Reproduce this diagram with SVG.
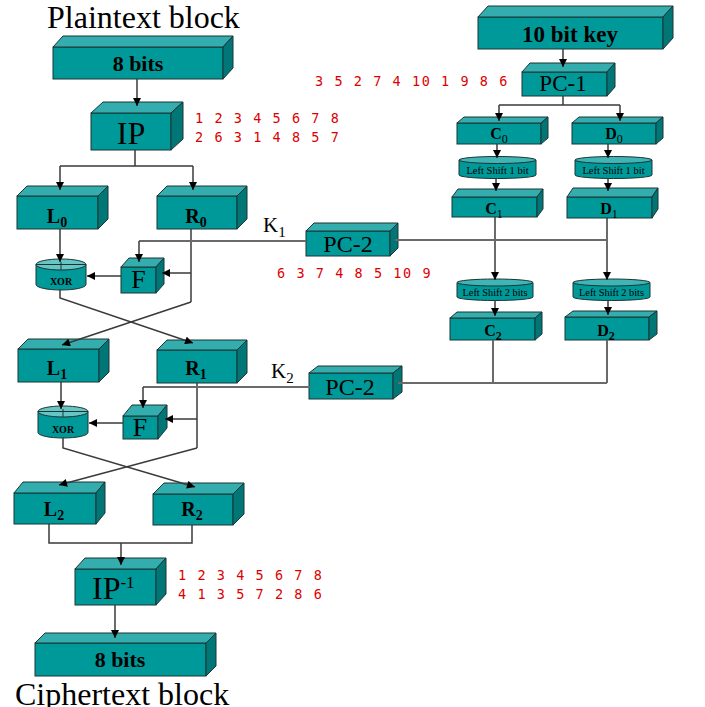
<svg xmlns="http://www.w3.org/2000/svg" width="705" height="707" viewBox="0 0 705 707">
<defs>
<marker id="ah" viewBox="0 0 10 10" refX="10" refY="5" markerWidth="10" markerHeight="8" orient="auto" markerUnits="userSpaceOnUse"><path d="M0,0 L10,5 L0,10 z" fill="#000"/></marker>
<style>
.fr{fill:#009999;stroke:#1c3434;stroke-width:1}
.tp{fill:#33adad;stroke:#1c3434;stroke-width:1}
.sd{fill:#007676;stroke:#1c3434;stroke-width:1}
.cy{fill:#009999;stroke:#1c3434;stroke-width:1}
.ct{fill:#40b5b5;stroke:#1c3434;stroke-width:1}
.xt{fill:#66c6c6;stroke:#1c3434;stroke-width:1}
.bl{font-family:"Liberation Serif",serif;font-weight:bold;fill:#000;text-anchor:middle}
.rg{font-family:"Liberation Serif",serif;fill:#000;text-anchor:middle}
.rd{font-family:"DejaVu Sans Mono",monospace;font-size:13.5px;fill:#dd0000;letter-spacing:1.57px;white-space:pre}
.ln{fill:none;stroke:#3a3a3a;stroke-width:1.5}
.kl{fill:none;stroke:#6a6a6a;stroke-width:2}
.ar{marker-end:url(#ah)}
</style>
</defs>
<rect width="705" height="707" fill="#fff"/>

<text x="47" y="28" font-family="Liberation Serif,serif" font-size="32">Plaintext block</text>
<text x="15" y="705" font-family="Liberation Serif,serif" font-size="32">Ciphertext block</text>

<g id="pt8">
<rect class="fr" x="53" y="47" width="170" height="32"/>
<polygon class="tp" points="53,47 63,36 233,36 223,47"/>
<polygon class="sd" points="223,47 233,36 233,68 223,79"/>
<text class="bl" x="138" y="71" font-size="22">8 bits</text>
</g>
<g id="ip">
<rect class="fr" x="91" y="113" width="80" height="37"/>
<polygon class="tp" points="91,113 103,102 183,102 171,113"/>
<polygon class="sd" points="171,113 183,102 183,139 171,150"/>
<text class="rg" x="131" y="144" font-size="32">IP</text>
</g>
<g id="key">
<rect class="fr" x="478" y="17" width="185" height="32"/>
<polygon class="tp" points="478,17 488,6 673,6 663,17"/>
<polygon class="sd" points="663,17 673,6 673,38 663,49"/>
<text class="bl" x="570" y="42" font-size="23">10 bit key</text>
</g>
<g id="pc1">
<rect class="fr" x="522" y="72" width="85" height="24"/>
<polygon class="tp" points="522,72 530,63 615,63 607,72"/>
<polygon class="sd" points="607,72 615,63 615,87 607,96"/>
<text class="rg" x="563" y="91" font-size="23">PC-1</text>
</g>
<g id="c0">
<rect class="fr" x="457" y="123" width="84" height="21"/>
<polygon class="tp" points="457,123 464,117 548,117 541,123"/>
<polygon class="sd" points="541,123 548,117 548,138 541,144"/>
<text class="bl" x="499" y="139" font-size="16">C<tspan font-size="12" font-weight="normal" dy="4">0</tspan></text>
</g>
<g id="d0">
<rect class="fr" x="572" y="123" width="84" height="21"/>
<polygon class="tp" points="572,123 579,117 663,117 656,123"/>
<polygon class="sd" points="656,123 663,117 663,138 656,144"/>
<text class="bl" x="614" y="139" font-size="16">D<tspan font-size="12" font-weight="normal" dy="4">0</tspan></text>
</g>
<g id="ls1c">
<path class="cy" d="M459,160 V175 A38.5,3.5 0 0 0 536,175 V160 Z"/>
<ellipse class="ct" cx="497.5" cy="160" rx="38.5" ry="3.5"/>
<text class="rg" x="497.5" y="174" font-size="10.5">Left Shift 1 bit</text>
</g>
<g id="ls1d">
<path class="cy" d="M575,160 V175 A38.5,3.5 0 0 0 652,175 V160 Z"/>
<ellipse class="ct" cx="613.5" cy="160" rx="38.5" ry="3.5"/>
<text class="rg" x="613.5" y="174" font-size="10.5">Left Shift 1 bit</text>
</g>
<g id="c1">
<rect class="fr" x="452" y="197" width="85" height="20"/>
<polygon class="tp" points="452,197 458,189 543,189 537,197"/>
<polygon class="sd" points="537,197 543,189 543,209 537,217"/>
<text class="bl" x="494" y="214" font-size="16">C<tspan font-size="12" font-weight="normal" dy="4">1</tspan></text>
</g>
<g id="d1">
<rect class="fr" x="567" y="197" width="85" height="21"/>
<polygon class="tp" points="567,197 573,188 658,188 652,197"/>
<polygon class="sd" points="652,197 658,188 658,209 652,218"/>
<text class="bl" x="609" y="214" font-size="16">D<tspan font-size="12" font-weight="normal" dy="4">1</tspan></text>
</g>
<g id="ls2c">
<path class="cy" d="M457,282.5 V297 A38,3.5 0 0 0 533,297 V282.5 Z"/>
<ellipse class="ct" cx="495" cy="282.5" rx="38" ry="3.5"/>
<text class="rg" x="495" y="296" font-size="10.3">Left Shift 2 bits</text>
</g>
<g id="ls2d">
<path class="cy" d="M573,282.5 V297 A38.5,3.5 0 0 0 650,297 V282.5 Z"/>
<ellipse class="ct" cx="611.5" cy="282.5" rx="38.5" ry="3.5"/>
<text class="rg" x="611.5" y="296" font-size="10.3">Left Shift 2 bits</text>
</g>
<g id="c2">
<rect class="fr" x="450" y="318" width="85" height="22"/>
<polygon class="tp" points="450,318 457,312 542,312 535,318"/>
<polygon class="sd" points="535,318 542,312 542,334 535,340"/>
<text class="bl" x="493" y="336" font-size="16">C<tspan font-size="12" dy="4">2</tspan></text>
</g>
<g id="d2">
<rect class="fr" x="565" y="317" width="84" height="23"/>
<polygon class="tp" points="565,317 573,311 657,311 649,317"/>
<polygon class="sd" points="649,317 657,311 657,334 649,340"/>
<text class="bl" x="606" y="336" font-size="16">D<tspan font-size="12" dy="4">2</tspan></text>
</g>
<g id="pc2a">
<rect class="fr" x="306" y="231" width="84" height="25"/>
<polygon class="tp" points="306,231 314,223 398,223 390,231"/>
<polygon class="sd" points="390,231 398,223 398,248 390,256"/>
<text class="rg" x="348" y="252" font-size="24">PC-2</text>
</g>
<g id="pc2b">
<rect class="fr" x="309" y="373" width="84" height="26"/>
<polygon class="tp" points="309,373 318,366 402,366 393,373"/>
<polygon class="sd" points="393,373 402,366 402,392 393,399"/>
<text class="rg" x="350" y="395" font-size="24">PC-2</text>
</g>
<g id="l0">
<rect class="fr" x="17" y="196" width="81" height="33"/>
<polygon class="tp" points="17,196 27,186 108,186 98,196"/>
<polygon class="sd" points="98,196 108,186 108,219 98,229"/>
<text class="bl" x="57" y="223" font-size="20">L<tspan font-size="14" dy="4">0</tspan></text>
</g>
<g id="r0">
<rect class="fr" x="157" y="196" width="80" height="33"/>
<polygon class="tp" points="157,196 167,186 247,186 237,196"/>
<polygon class="sd" points="237,196 247,186 247,219 237,229"/>
<text class="bl" x="196" y="223" font-size="20">R<tspan font-size="14" dy="4">0</tspan></text>
</g>
<g id="xor1">
<path class="cy" d="M36,264.5 V284.5 A25,5.5 0 0 0 86,284.5 V264.5 Z"/>
<ellipse class="xt" cx="61" cy="264.5" rx="25" ry="5.5"/>
<line x1="36" y1="264.5" x2="86" y2="264.5" stroke="#1c3434" stroke-width="1"/>
<text class="bl" x="61" y="285" font-size="10">XOR</text>
</g>
<g id="f1">
<rect class="fr" x="121" y="267" width="35" height="26"/>
<polygon class="tp" points="121,267 129,258 164,258 156,267"/>
<polygon class="sd" points="156,267 164,258 164,284 156,293"/>
<text class="rg" x="138.5" y="288" font-size="26">F</text>
</g>
<g id="l1">
<rect class="fr" x="18" y="349" width="81" height="33"/>
<polygon class="tp" points="18,349 28,339 109,339 99,349"/>
<polygon class="sd" points="99,349 109,339 109,372 99,382"/>
<text class="bl" x="57" y="375" font-size="20">L<tspan font-size="14" dy="4">1</tspan></text>
</g>
<g id="r1">
<rect class="fr" x="157" y="350" width="80" height="33"/>
<polygon class="tp" points="157,350 167,340 247,340 237,350"/>
<polygon class="sd" points="237,350 247,340 247,373 237,383"/>
<text class="bl" x="196" y="375" font-size="20">R<tspan font-size="14" dy="4">1</tspan></text>
</g>
<g id="xor2">
<path class="cy" d="M38,411.5 V432.5 A25,5.5 0 0 0 88,432.5 V411.5 Z"/>
<ellipse class="xt" cx="63" cy="411.5" rx="25" ry="5.5"/>
<line x1="38" y1="411.5" x2="88" y2="411.5" stroke="#1c3434" stroke-width="1"/>
<text class="bl" x="63" y="433" font-size="10">XOR</text>
</g>
<g id="f2">
<rect class="fr" x="123" y="416" width="35" height="23"/>
<polygon class="tp" points="123,416 132,405 167,405 158,416"/>
<polygon class="sd" points="158,416 167,405 167,428 158,439"/>
<text class="rg" x="140" y="436" font-size="26">F</text>
</g>
<g id="l2">
<rect class="fr" x="14" y="493" width="82" height="31"/>
<polygon class="tp" points="14,493 23,482 105,482 96,493"/>
<polygon class="sd" points="96,493 105,482 105,513 96,524"/>
<text class="bl" x="54" y="516" font-size="20">L<tspan font-size="14" dy="4">2</tspan></text>
</g>
<g id="r2">
<rect class="fr" x="153" y="494" width="80" height="31"/>
<polygon class="tp" points="153,494 164,483 244,483 233,494"/>
<polygon class="sd" points="233,494 244,483 244,514 233,525"/>
<text class="bl" x="192" y="516" font-size="20">R<tspan font-size="14" dy="4">2</tspan></text>
</g>
<g id="ipinv">
<rect class="fr" x="75" y="569" width="81" height="36"/>
<polygon class="tp" points="75,569 85,558 166,558 156,569"/>
<polygon class="sd" points="156,569 166,558 166,594 156,605"/>
<text x="92" y="599" font-family="Liberation Serif,serif" font-size="32">IP<tspan font-size="17" dy="-11">-1</tspan></text>
</g>
<g id="ct8">
<rect class="fr" x="35" y="643" width="171" height="33"/>
<polygon class="tp" points="35,643 45,633 216,633 206,643"/>
<polygon class="sd" points="206,643 216,633 216,666 206,676"/>
<text class="bl" x="120" y="667" font-size="22">8 bits</text>
</g>

<g id="connectors">
<path class="ln ar" d="M137,79 V106"/>
<path class="ln" d="M135,150 V166 H60 M135,166 H193"/>
<path class="ln ar" d="M60,166 V190"/>
<path class="ln ar" d="M193,166 V190"/>
<path class="ln ar" d="M60,229 V262"/>
<line x1="61" y1="262" x2="61" y2="270" stroke="#1c3434" stroke-width="1"/>
<path class="ln" d="M191,229 V302"/>
<path class="ln ar" d="M191,273 H162"/>
<path class="ln ar" d="M121,276 H87"/>
<path class="kl" d="M306,241 H139"/>
<path class="ln ar" d="M139,241 V262"/>
<path class="ln ar" d="M191,302 L62,345"/>
<path class="ln ar" d="M60,290 V298 L193,343"/>
<path class="ln ar" d="M61,382 V409"/>
<line x1="63" y1="409" x2="63" y2="417" stroke="#1c3434" stroke-width="1"/>
<path class="ln" d="M197,383 V448"/>
<path class="ln ar" d="M197,419 H165"/>
<path class="ln ar" d="M123,423 H89"/>
<path class="kl" d="M310,387 H143"/>
<path class="ln ar" d="M143,387 V408"/>
<path class="ln ar" d="M197,448 L59,485"/>
<path class="ln ar" d="M63,438 V448 L195,487"/>
<path class="ln" d="M49,524 V543 H192 V525"/>
<path class="ln ar" d="M121,543 V565"/>
<path class="ln ar" d="M115,605 V638"/>
<path class="ln ar" d="M563,49 V67"/>
<path class="ln" d="M563,96 V105 H499 M563,105 H620"/>
<path class="ln ar" d="M499,105 V121"/>
<path class="ln ar" d="M620,105 V121"/>
<path class="ln ar" d="M497,144 V158"/>
<path class="ln ar" d="M608,144 V158"/>
<path class="ln ar" d="M496,178 V191"/>
<path class="ln ar" d="M608,178 V191"/>
<path class="ln ar" d="M495,217 V280"/>
<path class="ln ar" d="M607,218 V280"/>
<path class="kl" d="M395,240 H607"/>
<path class="ln ar" d="M495,300 V316"/>
<path class="ln ar" d="M608,300 V315"/>
<path class="kl" d="M493,340 V383 M607,340 V383 M398,383 H607"/>
</g>

<text x="263" y="232" font-family="Liberation Serif,serif" font-size="21">K<tspan font-size="15" dy="5">1</tspan></text>
<text x="271" y="378" font-family="Liberation Serif,serif" font-size="21">K<tspan font-size="15" dy="5">2</tspan></text>

<text class="rd" x="195" y="123">1 2 3 4 5 6 7 8</text>
<text class="rd" x="195" y="142">2 6 3 1 4 8 5 7</text>
<text class="rd" x="315" y="86">3 5 2 7 4 10 1 9 8 6</text>
<text class="rd" x="277" y="278">6 3 7 4 8 5 10 9</text>
<text class="rd" x="178" y="580">1 2 3 4 5 6 7 8</text>
<text class="rd" x="178" y="599">4 1 3 5 7 2 8 6</text>
</svg>
